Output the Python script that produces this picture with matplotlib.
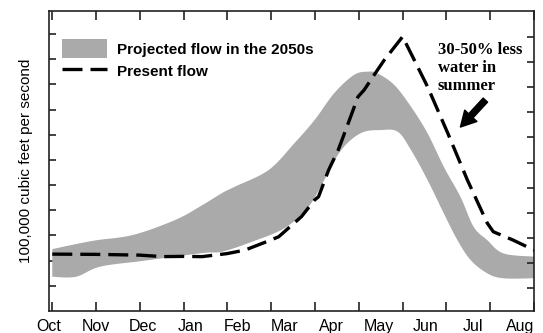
import numpy as np
import matplotlib
matplotlib.use("Agg")
import matplotlib.pyplot as plt
from matplotlib.patches import Patch
from matplotlib.lines import Line2D

# ---- data (x in months since Oct 1, y in 100,000 cfs) ----
month_labels = ["Oct", "Nov", "Dec", "Jan", "Feb", "Mar", "Apr", "May", "Jun", "Jul", "Aug"]

present_x = [0, 1.0, 2.0, 2.52, 2.99, 3.42, 3.99, 4.40, 4.99, 5.17, 5.69, 5.99, 6.08,
             6.31, 6.53, 6.76, 6.98, 7.12, 7.35, 7.58, 8.0, 8.57, 9.03, 9.48, 9.93,
             10.07, 10.52, 11.0]
present_y = [2.26, 2.25, 2.22, 2.16, 2.17, 2.16, 2.28, 2.42, 2.82, 2.95, 3.75, 4.41, 4.54,
             5.60, 6.40, 7.47, 8.51, 8.78, 9.38, 9.97, 10.90, 8.91, 7.07, 5.20, 3.50,
             3.15, 2.82, 2.42]

upper_x = [0, 0.93, 1.84, 2.81, 3.42, 3.88, 4.17, 4.94, 5.53, 5.99, 6.44, 6.89, 7.21,
           7.43, 7.81, 8.19, 8.57, 8.94, 9.32, 9.62, 9.93, 10.30, 11.0]
upper_y = [2.46, 2.79, 3.02, 3.62, 4.20, 4.69, 4.94, 5.60, 6.67, 7.59, 8.66, 9.38, 9.51,
           9.44, 8.98, 8.12, 7.06, 5.73, 4.54, 3.35, 2.82, 2.29, 2.16]

lower_x = [0, 0.54, 1.09, 2.06, 3.42, 3.88, 4.56, 5.31, 5.85, 6.21, 6.60, 7.05, 7.51,
           7.89, 8.19, 8.57, 8.94, 9.25, 9.55, 9.93, 10.30, 11.0]
lower_y = [1.36, 1.36, 1.76, 1.99, 2.30, 2.36, 2.75, 3.30, 4.14, 5.20, 6.40, 7.07, 7.19,
           7.12, 6.40, 5.20, 3.88, 2.82, 2.03, 1.50, 1.30, 1.30]


def smooth(xs, ys, n=12):
    """Catmull-Rom rendering of a polyline through the given points."""
    p = np.column_stack([xs, ys]).astype(float)
    p = np.vstack([p[0], p, p[-1]])
    out = []
    t = np.linspace(0, 1, n, endpoint=False)[:, None]
    for i in range(1, len(p) - 2):
        p0, p1, p2, p3 = p[i - 1], p[i], p[i + 1], p[i + 2]
        seg = 0.5 * ((2 * p1) + (-p0 + p2) * t + (2 * p0 - 5 * p1 + 4 * p2 - p3) * t ** 2
                     + (-p0 + 3 * p1 - 3 * p2 + p3) * t ** 3)
        out.append(seg)
    out.append(p[-2][None, :])
    out = np.vstack(out)
    return out[:, 0], out[:, 1]


sans = ["Liberation Sans", "DejaVu Sans"]
serif = ["Liberation Serif", "DejaVu Serif"]
plt.rcParams["font.family"] = sans

fig = plt.figure(figsize=(5.43, 3.33), dpi=100)
ax = fig.add_axes([49 / 543, 22 / 333, 485 / 543, 300 / 333])
ax.set_xlim(0, 11)
ax.set_ylim(0, 11.92)

band_color = "#aaaaaa"
ux, uy = smooth(upper_x, upper_y)
lx, ly = smooth(lower_x, lower_y)
ax.fill(np.concatenate([ux, lx[::-1]]), np.concatenate([uy, ly[::-1]]),
        color=band_color, lw=0, zorder=1)

dash = (0, (6.0, 2.4))
ax.plot(present_x, present_y, color="black", lw=2.4, linestyle=dash, zorder=3)

# axes styling
spine_c = "#222222"
for s in ax.spines.values():
    s.set_linewidth(1.2)
    s.set_color(spine_c)
ax.set_axisbelow(True)

ax.set_xticks(np.arange(0, 12))
ax.set_xticklabels([])
ax.tick_params(axis="x", which="major", direction="in", length=6.3, width=1.2,
               color=spine_c, top=True, bottom=True)
# month labels (spread as in the original)
label_pos = np.linspace(-0.075, 10.68, len(month_labels))
ax.set_xticks(label_pos, minor=True)
ax.set_xticklabels(month_labels, minor=True, fontsize=11.5)
ax.tick_params(axis="x", which="minor", length=0, pad=6)

ax.set_yticks(np.arange(1, 12))
ax.set_yticklabels([])
ax.tick_params(axis="y", direction="in", length=5, width=1.2, color=spine_c,
               left=True, right=False)

axr = ax.twinx()
axr.set_ylim(0.1, 12.02)
axr.set_yticks(np.arange(1, 12))
axr.set_yticklabels([])
axr.tick_params(axis="y", direction="in", length=5, width=1.2, color=spine_c)
for s in axr.spines.values():
    s.set_visible(False)

ax.set_ylabel("100,000 cubic feet per second", fontsize=11, va="center")
ax.yaxis.set_label_coords(-0.047, 0.5)

# legend
fs = 11
handles = [Patch(facecolor=band_color, edgecolor="none"),
           Line2D([], [], color="black", lw=2.4, linestyle=dash)]
leg = ax.legend(handles, ["Projected flow in the 2050s", "Present flow"],
                loc="upper left", bbox_to_anchor=(13 / 485, (311 - 39) / 300),
                frameon=False, borderpad=0, borderaxespad=0,
                handlelength=2.94, handleheight=1.57, labelspacing=0.2,
                handletextpad=0.65, prop={"family": sans, "weight": "bold", "size": fs})

# annotation
ax.text(8.80, 9.65, "30-50% less\nwater in\nsummer", family=serif, weight="bold",
        fontsize=12, ha="left", va="center", linespacing=1.15, zorder=5)
ax.annotate("", xy=(9.32, 7.31), xytext=(9.89, 8.38),
            arrowprops=dict(facecolor="black", edgecolor="black", width=4.3,
                            headwidth=12, headlength=11, shrink=0))

fig.savefig("out.png", dpi=100)
